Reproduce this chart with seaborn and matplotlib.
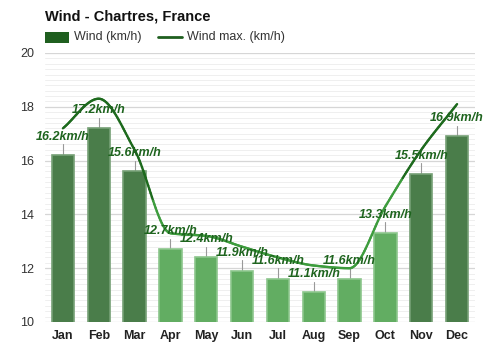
import numpy as np
import pandas as pd
import matplotlib
matplotlib.use("Agg")
import matplotlib.pyplot as plt
from matplotlib.collections import LineCollection
from matplotlib.patches import Rectangle
from matplotlib.lines import Line2D
import seaborn as sns

months = ["Jan", "Feb", "Mar", "Apr", "May", "Jun",
          "Jul", "Aug", "Sep", "Oct", "Nov", "Dec"]
wind = [16.2, 17.2, 15.6, 12.7, 12.4, 11.9, 11.6, 11.1, 11.6, 13.3, 15.5, 16.9]
wind_max = [17.2, 18.3, 16.4, 13.3, 13.2, 12.8, 12.4, 12.1, 12.0, 14.3, 16.4, 18.1]
strong = [True, True, True, False, False, False, False, False, False, False, True, True]

DARK_BAR = "#4a7d4a"
LIGHT_BAR = "#62ad62"
DARK_EDGE = "#76a076"
LIGHT_EDGE = "#8cc68c"
DARK_LINE = "#1d6a1d"
LIGHT_LINE = "#3d9c3d"
LABEL = "#1e641e"

sns.set_theme(style="white")
plt.rcParams["font.family"] = ["Liberation Sans", "DejaVu Sans"]

df = pd.DataFrame({"month": months, "wind": wind})

fig = plt.figure(figsize=(5, 3.5), dpi=100)
ax = fig.add_axes([0.09, 0.08, 0.86, 0.7686])

palette = [DARK_BAR if s else LIGHT_BAR for s in strong]
sns.barplot(data=df, x="month", y="wind", hue="month", palette=palette,
            saturation=1, legend=False, width=0.62, ax=ax, zorder=3)
for patch, s in zip(ax.patches, strong):
    patch.set_edgecolor(DARK_EDGE if s else LIGHT_EDGE)
    patch.set_linewidth(1.2)

ax.set_ylim(10, 20)
ax.set_xlim(-0.5, 11.5)
ax.set_yticks([10, 12, 14, 16, 18, 20])
ax.set_yticks(np.arange(10, 20.01, 0.2), minor=True)
ax.grid(axis="y", which="major", color="#d6d6d6", linewidth=0.9, zorder=0)
ax.grid(axis="y", which="minor", color="#efefef", linewidth=0.7, zorder=0)
ax.set_axisbelow(True)
for sp in ax.spines.values():
    sp.set_visible(False)
ax.set_xlabel("")
ax.set_ylabel("")
ax.tick_params(axis="y", which="both", length=0, labelsize=9, colors="#333333", pad=8)
ax.tick_params(axis="x", length=0, labelsize=9, pad=6)
for t in ax.get_xticklabels():
    t.set_fontweight("bold")
    t.set_color("#222222")

# Smooth monotone (PCHIP) curve through the monthly maxima
x = np.arange(len(wind_max), dtype=float)
y = np.array(wind_max, dtype=float)
h = np.diff(x)
delta = np.diff(y) / h
d = np.zeros_like(y)
for k in range(1, len(y) - 1):
    if delta[k - 1] * delta[k] > 0:
        w1 = 2 * h[k] + h[k - 1]
        w2 = h[k] + 2 * h[k - 1]
        d[k] = (w1 + w2) / (w1 / delta[k - 1] + w2 / delta[k])
d[0] = delta[0]
d[-1] = delta[-1]
segs, cols = [], []
for i in range(len(x) - 1):
    t = np.linspace(0, 1, 30)
    h00 = 2 * t ** 3 - 3 * t ** 2 + 1
    h10 = t ** 3 - 2 * t ** 2 + t
    h01 = -2 * t ** 3 + 3 * t ** 2
    h11 = t ** 3 - t ** 2
    yy = h00 * y[i] + h10 * h[i] * d[i] + h01 * y[i + 1] + h11 * h[i] * d[i + 1]
    xx = x[i] + t * h[i]
    pts = np.column_stack([xx, yy])
    for j in range(len(t) - 1):
        segs.append(pts[j:j + 2])
        idx = int(round(xx[j] + 0.5 / 29))
        cols.append(DARK_LINE if strong[min(idx, 11)] else LIGHT_LINE)
lc = LineCollection(segs, colors=cols, linewidths=1.7, zorder=4, capstyle="round")
ax.add_collection(lc)

# Value labels with thin leader ticks
for i, v in enumerate(wind):
    ax.plot([i, i], [v, v + 0.4], color="#999999", linewidth=0.8, zorder=2)
    ax.text(i, v + 0.45, f"{v}km/h", ha="center", va="bottom", fontsize=9,
            fontweight="bold", fontstyle="italic", color=LABEL, zorder=5)

# Title and legend
fig.text(0.09, 0.953, "Wind - Chartres, France", fontsize=10.5, fontweight="bold",
         color="#111111", va="center")
fig.patches.append(Rectangle((0.09, 0.877), 0.048, 0.032, transform=fig.transFigure,
                             facecolor="#1f5f1f", edgecolor="none", figure=fig))
fig.text(0.148, 0.893, "Wind (km/h)", fontsize=9, color="#333333", va="center")
fig.lines.append(Line2D([0.316, 0.364], [0.893, 0.893], transform=fig.transFigure,
                        color="#1f5f1f", linewidth=2, figure=fig))
fig.text(0.374, 0.893, "Wind max. (km/h)", fontsize=9, color="#333333", va="center")

fig.savefig("out.png", dpi=100, facecolor="white")
